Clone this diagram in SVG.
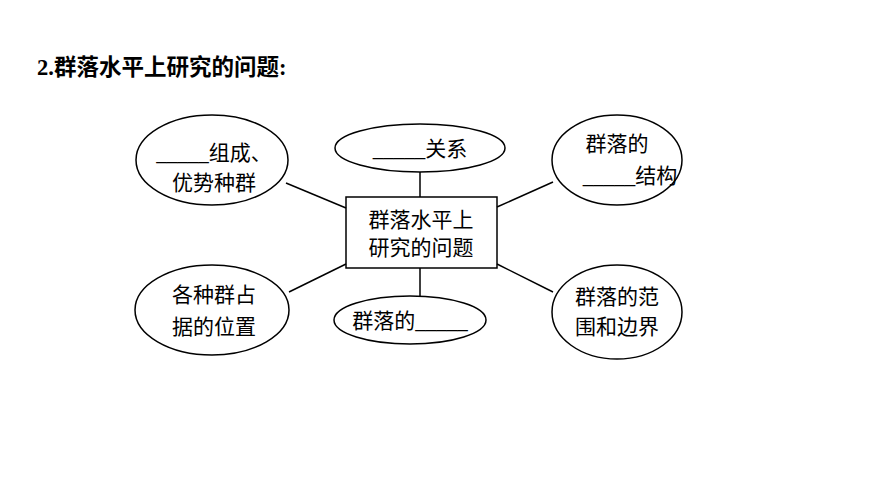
<svg xmlns="http://www.w3.org/2000/svg" width="870" height="488" viewBox="0 0 870 488">
<style>
.s{fill:none;stroke:#000;stroke-width:1.5}
text{font-family:"Liberation Serif","Noto Sans CJK SC",serif;font-size:21px;fill:#000}
.c{text-anchor:middle}
</style>
<rect width="870" height="488" fill="#fff"/>
<text x="37" y="75" style="font-weight:bold;font-size:22.5px">2.群落水平上研究的问题:</text>
<g id="connectors" class="s">
<line x1="286" y1="183" x2="346" y2="208"/>
<line x1="420" y1="172" x2="420" y2="197"/>
<line x1="553" y1="182" x2="497" y2="207"/>
<line x1="289" y1="292" x2="346" y2="264"/>
<line x1="420" y1="268" x2="420" y2="296"/>
<line x1="497" y1="264" x2="553" y2="292"/>
</g>
<g id="center"><rect class="s" x="346" y="197" width="151" height="71"/>
<text class="c" x="421" y="227">群落水平上</text><text class="c" x="421" y="255">研究的问题</text></g>
<g id="n1"><ellipse class="s" cx="212" cy="160" rx="76" ry="45"/>
<text class="c" x="214" y="160">_____组成、</text><text class="c" x="214" y="190">优势种群</text></g>
<g id="n2"><ellipse class="s" cx="420" cy="148" rx="85" ry="24"/>
<text class="c" x="420" y="156">_____关系</text></g>
<g id="n3"><ellipse class="s" cx="617" cy="160" rx="65" ry="45"/>
<text class="c" x="617" y="151">群落的</text><text class="c" x="630" y="183">_____结构</text></g>
<g id="n4"><ellipse class="s" cx="212" cy="310" rx="77" ry="45"/>
<text class="c" x="214" y="302">各种群占</text><text class="c" x="214" y="334">据的位置</text></g>
<g id="n5"><ellipse class="s" cx="410" cy="320" rx="76" ry="24"/>
<text class="c" x="410" y="328">群落的_____</text></g>
<g id="n6"><ellipse class="s" cx="617" cy="312" rx="65" ry="47"/>
<text class="c" x="617" y="304">群落的范</text><text class="c" x="617" y="334">围和边界</text></g>
</svg>
